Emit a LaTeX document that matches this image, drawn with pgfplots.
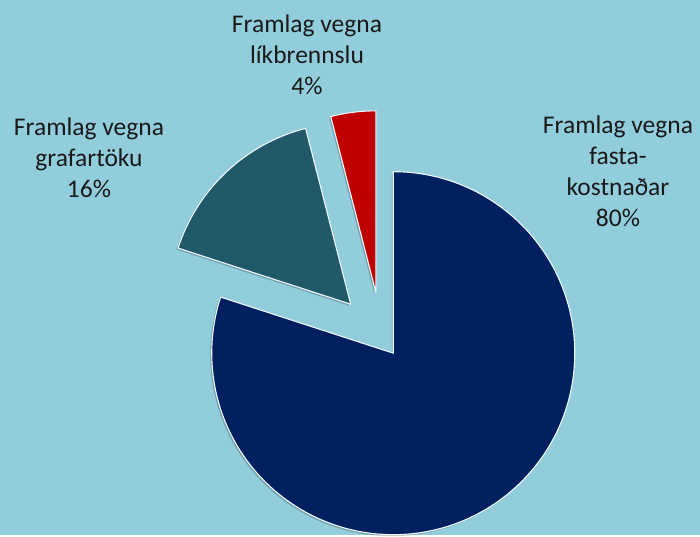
\documentclass[border=0pt]{standalone}
\usepackage{fontspec}
\setmainfont{Carlito}
\usepackage{pgfplots}
\usepackage{pgfplotstable}
\pgfplotsset{compat=1.18}
\definecolor{bgc}{HTML}{92CDDC}
\definecolor{cnavy}{HTML}{002060}
\definecolor{cteal}{HTML}{215968}
\definecolor{cred}{HTML}{C00000}
\definecolor{txt}{HTML}{1A1A1A}

% share (percent), explode (distance from pie centre)
\pgfplotstableread{
share explode
80 20
16 45
4 45
}\piedata

\tikzset{lbl/.style={font=\fontsize{25.5bp}{31bp}\selectfont, text=txt, align=center, inner sep=0pt}}

\begin{document}
\begin{tikzpicture}
\pgfplotstablegetelem{0}{share}\of\piedata\edef\sA{\pgfplotsretval}
\pgfplotstablegetelem{1}{share}\of\piedata\edef\sB{\pgfplotsretval}
\pgfplotstablegetelem{2}{share}\of\piedata\edef\sC{\pgfplotsretval}
\pgfplotstablegetelem{0}{explode}\of\piedata\edef\eA{\pgfplotsretval}
\pgfplotstablegetelem{1}{explode}\of\piedata\edef\eB{\pgfplotsretval}
\pgfplotstablegetelem{2}{explode}\of\piedata\edef\eC{\pgfplotsretval}
\def\cx{381.5}\def\cy{198.0}\def\R{181.5bp}
\pgfmathsetmacro\aS{90}
\pgfmathsetmacro\aA{\aS-3.6*\sA}
\pgfmathsetmacro\aB{\aA-3.6*\sB}
\pgfmathsetmacro\aC{\aB-3.6*\sC}
\pgfmathsetmacro\mA{(\aS+\aA)/2}
\pgfmathsetmacro\mB{(\aA+\aB)/2}
\pgfmathsetmacro\mC{(\aB+\aC)/2}
\pgfmathsetmacro\vxA{\cx+\eA*cos(\mA)}\pgfmathsetmacro\vyA{\cy+\eA*sin(\mA)}
\pgfmathsetmacro\vxB{\cx+\eB*cos(\mB)}\pgfmathsetmacro\vyB{\cy+\eB*sin(\mB)}
\pgfmathsetmacro\vxC{\cx+\eC*cos(\mC)}\pgfmathsetmacro\vyC{\cy+\eC*sin(\mC)}
\fill[bgc] (0,0) rectangle (700bp,535bp);
\begin{axis}[
  at={(0,0)}, anchor=south west,
  scale only axis, width=700bp, height=535bp,
  xmin=0, xmax=700, ymin=0, ymax=535,
  hide axis, clip=false,
]
% shadows
\fill[black, opacity=0.22, shift={(-1.5bp,-1.5bp)}] (axis cs:\vxA,\vyA) -- ++(\aS:\R) arc[start angle=\aS, end angle=\aA, radius=\R] -- cycle;
\fill[black, opacity=0.22, shift={(-1.5bp,-1.5bp)}] (axis cs:\vxB,\vyB) -- ++(\aA:\R) arc[start angle=\aA, end angle=\aB, radius=\R] -- cycle;
\fill[black, opacity=0.22, shift={(-1.5bp,-1.5bp)}] (axis cs:\vxC,\vyC) -- ++(\aB:\R) arc[start angle=\aB, end angle=\aC, radius=\R] -- cycle;
% slices
\filldraw[fill=cnavy, draw=white!85!bgc, line width=1.1bp, line join=round] (axis cs:\vxA,\vyA) -- ++(\aS:\R) arc[start angle=\aS, end angle=\aA, radius=\R] -- cycle;
\filldraw[fill=cteal, draw=white!85!bgc, line width=1.1bp, line join=round] (axis cs:\vxB,\vyB) -- ++(\aA:\R) arc[start angle=\aA, end angle=\aB, radius=\R] -- cycle;
\filldraw[fill=cred, draw=white!85!bgc, line width=1.1bp, line join=round] (axis cs:\vxC,\vyC) -- ++(\aB:\R) arc[start angle=\aB, end angle=\aC, radius=\R] -- cycle;
% labels
\node[lbl] at (axis cs:618,364) {Framlag vegna\\fasta-\\kostnaðar\\80\%};
\node[lbl] at (axis cs:89,377.5) {Framlag vegna\\grafartöku\\16\%};
\node[lbl] at (axis cs:307,480) {Framlag vegna\\líkbrennslu\\4\%};
\end{axis}
\end{tikzpicture}
\end{document}
